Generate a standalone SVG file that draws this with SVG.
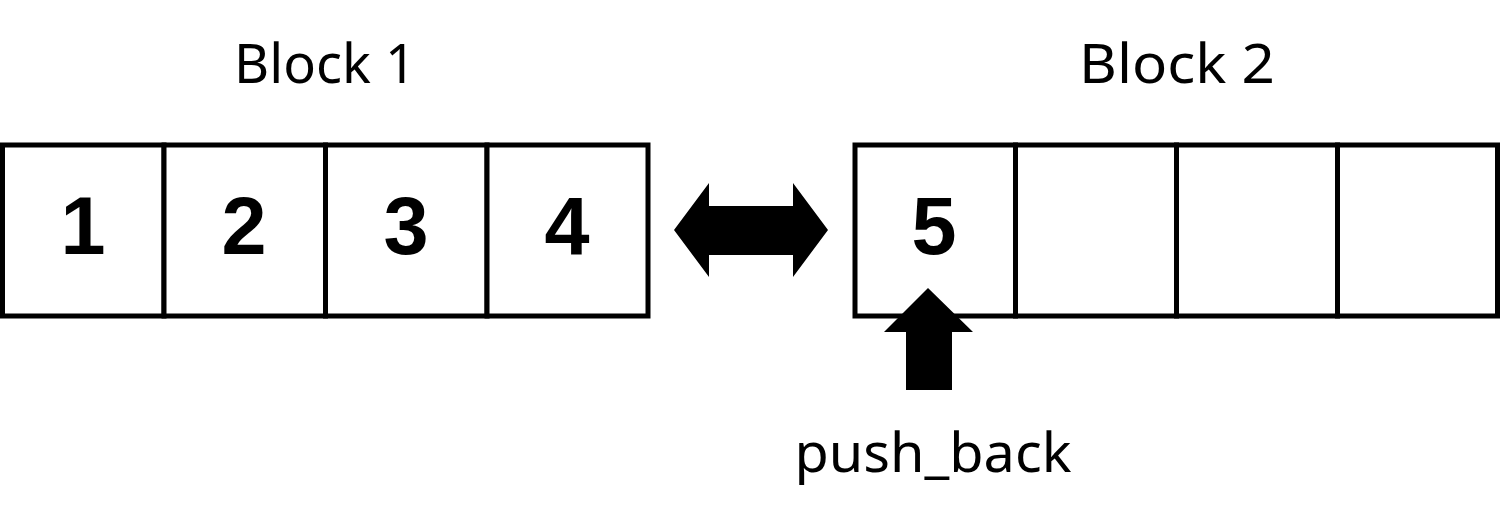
<svg xmlns="http://www.w3.org/2000/svg" width="1501" height="526" viewBox="0 0 1501 526">
<style>
.cell{fill:#fff;stroke:#000;stroke-width:5}
.num{font-family:"Liberation Sans",sans-serif;font-weight:bold;font-size:81px;text-anchor:middle;fill:#000}
.lbl{font-family:"Noto Sans",sans-serif;font-size:54px;text-anchor:middle;fill:#000}
.arr{fill:#000}
</style>
<rect width="1501" height="526" fill="#fff"/>
<g id="block1">
<text class="lbl" x="325" y="83" textLength="182" lengthAdjust="spacingAndGlyphs">Block 1</text>
<rect class="cell" x="2.5" y="145" width="161.5" height="171"/>
<rect class="cell" x="164" y="145" width="161.5" height="171"/>
<rect class="cell" x="325.5" y="145" width="161.5" height="171"/>
<rect class="cell" x="487" y="145" width="161" height="171"/>
<text class="num" x="83" y="254">1</text>
<text class="num" x="244" y="254">2</text>
<text class="num" x="406" y="254">3</text>
<text class="num" x="567" y="254">4</text>
</g>
<g id="block2">
<text class="lbl" x="1177" y="83" textLength="196" lengthAdjust="spacingAndGlyphs">Block 2</text>
<rect class="cell" x="855" y="145" width="160.5" height="171"/>
<rect class="cell" x="1015.5" y="145" width="161" height="171"/>
<rect class="cell" x="1176.5" y="145" width="161" height="171"/>
<rect class="cell" x="1337.5" y="145" width="160" height="171"/>
<text class="num" x="934" y="254">5</text>
</g>
<g id="connectors">
<polygon class="arr" points="674,230 709,183 709,206 793,206 793,183 828,230 793,277 793,255 709,255 709,277"/>
<polygon class="arr" points="928,288 973,332 952,332 952,390 906,390 906,332 884,332"/>
</g>
<g id="push_back">
<text class="lbl" x="933" y="472" textLength="277" lengthAdjust="spacingAndGlyphs">push_back</text>
</g>
</svg>
